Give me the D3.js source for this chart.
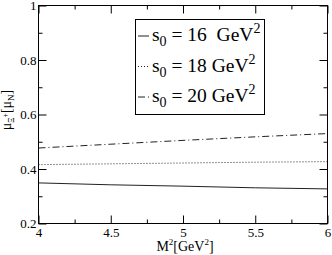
<!DOCTYPE html>
<html><head><meta charset="utf-8">
<script src="https://cdn.jsdelivr.net/npm/d3@7"></script>
<style>
html,body{margin:0;padding:0;background:#fff;}
svg{display:block;}
svg text{font-family:"Liberation Serif","Times New Roman","DejaVu Serif",serif !important;fill:#000;}
</style></head>
<body>
<svg id="c" width="332" height="255" font-family="Liberation Serif, Times New Roman, serif"></svg>
<script>
// data
const m2 = [4, 4.5, 5, 5.5, 6];
const s16 = [0.349, 0.342, 0.337, 0.331, 0.327];
const s18 = [0.416, 0.419, 0.422, 0.425, 0.427];
const s20 = [0.477, 0.491, 0.505, 0.518, 0.530];
const seriesNames = ["16", "18", "20"];
const xMajor = [4, 4.5, 5, 5.5, 6];
const xMinor = [4.25, 4.75, 5.25, 5.75];
const yMajor = [0.2, 0.4, 0.6, 0.8, 1];
const yMinor = [0.3, 0.5, 0.7, 0.9];

const svg = d3.select("#c");
const L = 38.5, R = 327.5, T = 5.5, B = 223.5;
const x = d3.scaleLinear().domain([4, 6]).range([L, R]);
const y = d3.scaleLinear().domain([0.2, 1]).range([B, T]);

const styles = [
  {dash: null},
  {dash: "1,2"},
  {dash: "7,3,1,3"}
];
const seriesData = [s16, s18, s20];

const line = d3.line().x((d, i) => x(m2[i])).y(d => y(d));
seriesData.forEach((s, k) => {
  svg.append("path").datum(s).attr("d", line)
    .attr("fill", "none").attr("stroke", "#222").attr("stroke-width", 1)
    .attr("stroke-dasharray", styles[k].dash);
});

function styleAxis(g) {
  g.attr("font-family", null);
  g.select(".domain").remove();
  g.selectAll("line").attr("stroke", "#000");
  g.selectAll("text").style("font-size", "13px").attr("fill", "#000");
}
const fmtY = d => d === 1 ? "1" : d3.format(".1f")(d);
const fmtX = d => Number.isInteger(d) ? String(d) : d3.format(".1f")(d);

// bottom
svg.append("g").attr("transform", `translate(0,${B})`)
  .call(d3.axisBottom(x).tickValues(xMajor).tickFormat(fmtX).tickSize(-8).tickPadding(4)).call(styleAxis);
svg.append("g").attr("transform", `translate(0,${B})`)
  .call(d3.axisBottom(x).tickValues(xMinor).tickFormat("").tickSize(-4)).call(styleAxis);
// top
svg.append("g").attr("transform", `translate(0,${T})`)
  .call(d3.axisTop(x).tickValues(xMajor).tickFormat("").tickSize(-8)).call(styleAxis);
svg.append("g").attr("transform", `translate(0,${T})`)
  .call(d3.axisTop(x).tickValues(xMinor).tickFormat("").tickSize(-4)).call(styleAxis);
// left
svg.append("g").attr("transform", `translate(${L},0)`)
  .call(d3.axisLeft(y).tickValues(yMajor).tickFormat(fmtY).tickSize(-8).tickPadding(2)).call(styleAxis);
svg.append("g").attr("transform", `translate(${L},0)`)
  .call(d3.axisLeft(y).tickValues(yMinor).tickFormat("").tickSize(-4)).call(styleAxis);
// right
svg.append("g").attr("transform", `translate(${R},0)`)
  .call(d3.axisRight(y).tickValues(yMajor).tickFormat("").tickSize(-8)).call(styleAxis);
svg.append("g").attr("transform", `translate(${R},0)`)
  .call(d3.axisRight(y).tickValues(yMinor).tickFormat("").tickSize(-4)).call(styleAxis);

// frame
svg.append("rect").attr("x", L).attr("y", T).attr("width", R - L).attr("height", B - T)
  .attr("fill", "none").attr("stroke", "#000").attr("stroke-width", 1);

// legend
const lg = svg.append("g");
lg.append("rect").attr("x", 135.5).attr("y", 19.5).attr("width", 129).attr("height", 95)
  .attr("fill", "#fff").attr("stroke", "#000").attr("stroke-width", 1);
seriesNames.forEach((n, k) => {
  const by = 41 + k * 30.5;
  lg.append("line").attr("x1", 138).attr("x2", 149).attr("y1", by - 5).attr("y2", by - 5)
    .attr("stroke", "#222").attr("stroke-width", 1).attr("stroke-dasharray", styles[k].dash);
  const t = lg.append("text").attr("x", 152).attr("y", by).style("font-size", "19.5px").style("white-space", "pre");
  t.append("tspan").text("s");
  t.append("tspan").attr("dy", 5).style("font-size", "14px").text("0");
  t.append("tspan").attr("dy", -5).text(" = " + n + (k === 0 ? "  " : " ") + "GeV");
  t.append("tspan").attr("dy", -8).style("font-size", "14px").text("2");
});

// x label
const xl = svg.append("text").attr("x", 185).attr("y", 251).attr("text-anchor", "middle").style("font-size", "14px");
xl.append("tspan").text("M");
xl.append("tspan").attr("dy", -6).style("font-size", "9px").text("2");
xl.append("tspan").attr("dy", 6).text("[GeV");
xl.append("tspan").attr("dy", -6).style("font-size", "9px").text("2");
xl.append("tspan").attr("dy", 6).text("]");

// y label
const yl = svg.append("text").attr("transform", "translate(11,110) rotate(-90)").attr("text-anchor", "middle").style("font-size", "14px");
yl.append("tspan").text("μ");
yl.append("tspan").attr("dy", 3).style("font-size", "8px").text("Ξ");
yl.append("tspan").attr("dy", -6).style("font-size", "8px").text("+");
yl.append("tspan").attr("dy", 3).text("[μ");
yl.append("tspan").attr("dy", 3).style("font-size", "9px").text("N");
yl.append("tspan").attr("dy", -3).text("]");
</script>
</body></html>
